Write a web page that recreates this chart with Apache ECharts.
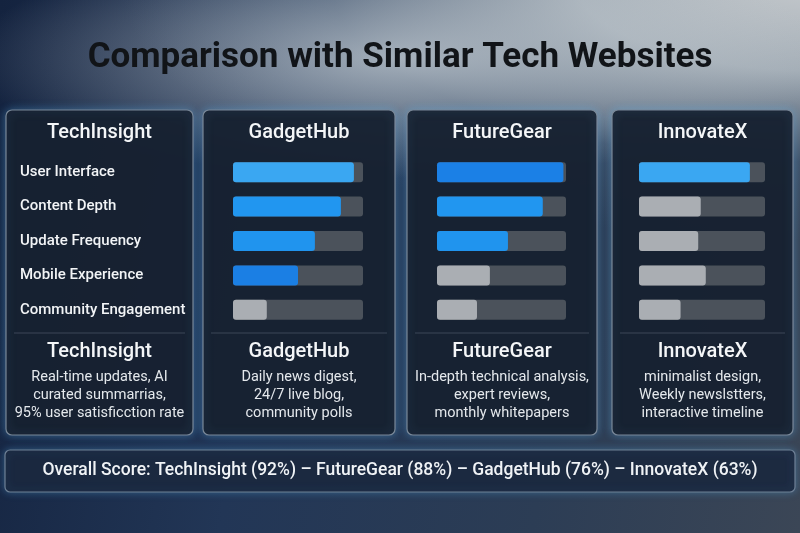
<!DOCTYPE html>
<html>
<head>
<meta charset="utf-8">
<script src="https://cdn.jsdelivr.net/npm/echarts@6/dist/echarts.min.js"></script>
<style>
html, body { margin: 0; padding: 0; }
body {
  width: 800px; height: 533px; overflow: hidden;
  background:
    radial-gradient(ellipse 430px 120px at 400px 58px, rgba(200,208,214,0.75) 0%, rgba(200,208,214,0) 100%),
    radial-gradient(ellipse 700px 260px at 820px -20px, #c6cacd 0%, #a3adb6 35%, rgba(70,90,115,0.6) 70%, rgba(30,45,70,0) 100%),
    linear-gradient(100deg, #14233f 0%, #223656 35%, #2c3d55 70%, #3b4656 100%);
}
#charts { width: 800px; height: 533px; }
</style>
</head>
<body>
<div id="charts"></div>
<script>
// rows of the comparison
var metrics = ['User Interface', 'Content Depth', 'Update Frequency', 'Mobile Experience', 'Community Engagement'];
var sites = ['TechInsight', 'GadgetHub', 'FutureGear', 'InnovateX'];
// bar values (percent of track), only the three right panels have bars
var gadgetHub = [93, 83, 63, 50, 26];
var futureGear = [98, 82, 55, 41, 31];
var innovateX = [88, 49, 47, 53, 33];
// which bars are drawn as blue (true) or grey (false)
var gadgetHubHi = [true, true, true, true, false];
var futureGearHi = [true, true, true, false, false];
var innovateXHi = [true, false, false, false, false];
var descriptions = [
    ['Real-time updates, AI', 'curated summarrias,', '95% user satisficction rate'],
    ['Daily news digest,', '24/7 live blog,', 'community polls'],
    ['In-depth technical analysis,', 'expert reviews,', 'monthly whitepapers'],
    ['minimalist design,', 'Weekly newslstters,', 'interactive timeline']
];
var overallOrder = ['TechInsight', 'FutureGear', 'GadgetHub', 'InnovateX'];
var overallScore = [92, 88, 76, 63];

var FONT = 'Roboto, "Noto Sans", sans-serif';
var blues = ['#3aa7f2', '#2196f0', '#2094ee', '#1b7fe4', '#1b7fe4'];
var greyFill = '#aaaeb3';

var panelX = [6, 203, 407, 612];
var panelW = [187, 192, 190, 181];
var gridLeft = [233, 437, 639];
var gridWidth = [130, 129, 126];

var myChart = echarts.init(document.getElementById('charts'));

function barData(vals, hi) {
    return vals.map(function (v, i) {
        return {
            value: v,
            itemStyle: { color: hi[i] ? (i == 0 && vals === futureGear ? '#1b80e6' : blues[i]) : greyFill }
        };
    });
}

var grids = [], xAxes = [], yAxes = [], series = [];
var allVals = [gadgetHub, futureGear, innovateX];
var allHi = [gadgetHubHi, futureGearHi, innovateXHi];
for (var g = 0; g < 3; g++) {
    grids.push({ left: gridLeft[g], width: gridWidth[g], top: 155, height: 172 });
    xAxes.push({ gridIndex: g, type: 'value', min: 0, max: 100, show: false });
    yAxes.push({
        gridIndex: g, type: 'category', data: metrics, inverse: true,
        axisLine: { show: false }, axisTick: { show: false }, splitLine: { show: false },
        axisLabel: g == 0 ? {
            show: true, align: 'left', margin: 213, color: '#f2f4f6',
            fontFamily: FONT, fontSize: 15, fontWeight: 500
        } : { show: false }
    });
    series.push({
        type: 'bar', xAxisIndex: g, yAxisIndex: g, barWidth: 20,
        data: barData(allVals[g], allHi[g]),
        showBackground: true,
        backgroundStyle: { color: '#4b525b', borderRadius: 3 },
        itemStyle: { borderRadius: 3 },
        silent: true
    });
}

var graphics = [];
// title
graphics.push({
    type: 'text', x: 400, y: 58, z: 10,
    style: {
        text: 'Comparison with Similar Tech Websites', fill: '#111418',
        font: 'bold 35px ' + FONT, align: 'center', verticalAlign: 'middle',
        shadowColor: 'rgba(230,235,240,0.8)', shadowBlur: 14
    }
});
// panels
for (var p = 0; p < 4; p++) {
    var cx = panelX[p] + panelW[p] / 2;
    graphics.push({
        type: 'rect', z: 0,
        shape: { x: panelX[p], y: 110, width: panelW[p], height: 325, r: 6 },
        style: { fill: 'rgba(21,30,44,0.94)', stroke: '#7a8898', lineWidth: 1.2,
                 shadowColor: 'rgba(90,170,230,0.45)', shadowBlur: 10 }
    });
    graphics.push({
        type: 'line', z: 1,
        shape: { x1: panelX[p] + 8, y1: 333, x2: panelX[p] + panelW[p] - 8, y2: 333 },
        style: { stroke: '#3c4758', lineWidth: 1 }
    });
    graphics.push({
        type: 'text', z: 2, x: cx, y: 133,
        style: { text: sites[p], fill: '#f4f6f8', font: '500 20px ' + FONT,
                 align: 'center', verticalAlign: 'middle' }
    });
    graphics.push({
        type: 'text', z: 2, x: cx, y: 352,
        style: { text: sites[p], fill: '#f4f6f8', font: '500 20px ' + FONT,
                 align: 'center', verticalAlign: 'middle' }
    });
    graphics.push({
        type: 'text', z: 2, x: cx, y: 368,
        style: { text: descriptions[p].join('\n'), fill: '#e4e8ec', font: '14.5px ' + FONT,
                 align: 'center', verticalAlign: 'top', lineHeight: 18 }
    });
}
// overall score box
var overallText = 'Overall Score: ' + overallOrder.map(function (s, i) {
    return s + ' (' + overallScore[i] + '%)';
}).join(' \u2013 ');
graphics.push({
    type: 'rect', z: 0,
    shape: { x: 5, y: 450, width: 790, height: 42, r: 5 },
    style: { fill: 'rgba(24,36,56,0.9)', stroke: '#6f8196', lineWidth: 1.2,
             shadowColor: 'rgba(90,170,230,0.4)', shadowBlur: 8 }
});
graphics.push({
    type: 'text', z: 2, x: 400, y: 471,
    style: { text: overallText, fill: '#f0f3f6', font: '500 17.5px ' + FONT,
             align: 'center', verticalAlign: 'middle' }
});

var option = {
    backgroundColor: 'transparent',
    animation: false,
    grid: grids,
    xAxis: xAxes,
    yAxis: yAxes,
    series: series,
    graphic: graphics
};
myChart.setOption(option);
</script>
</body>
</html>
